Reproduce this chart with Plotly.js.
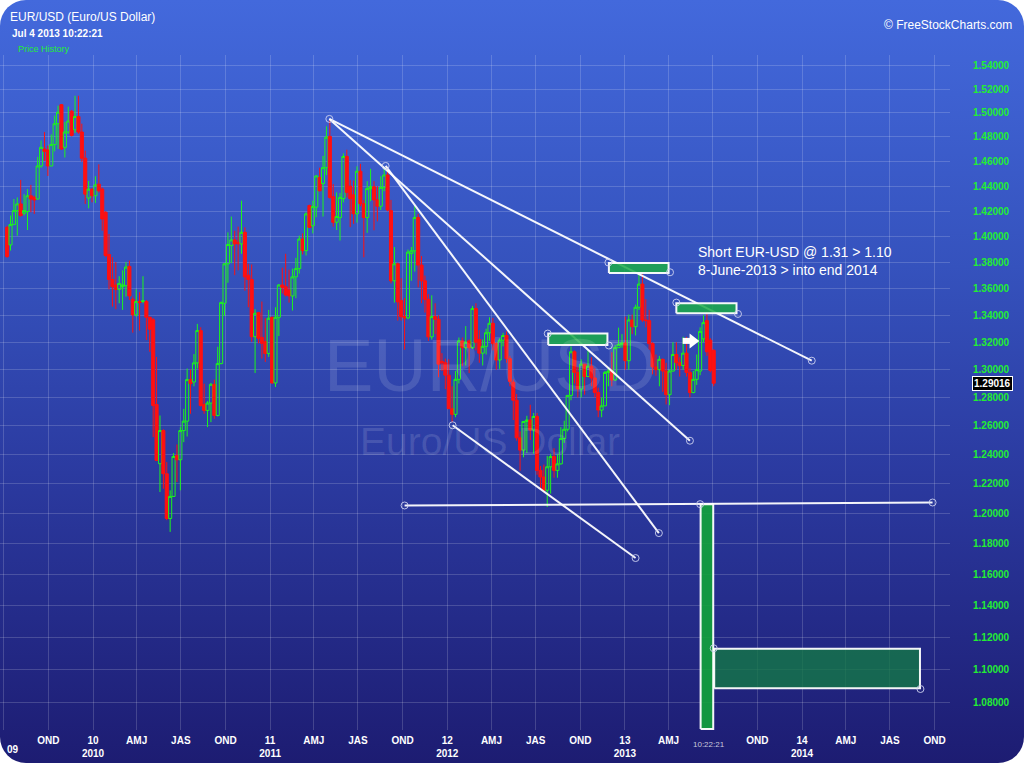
<!DOCTYPE html>
<html><head><meta charset="utf-8">
<script src="https://cdn.plot.ly/plotly-3.0.1.min.js"></script>
<style>
html,body{margin:0;padding:0;background:#ffffff;}
#wrap{position:absolute;left:0;top:0;width:1024px;height:763px;border-radius:26px;overflow:hidden;
background:linear-gradient(to bottom,#4369dc 0%,#3552bd 35%,#2b3aa0 62%,#1d1c72 100%);}
#chart{width:1024px;height:763px;}
</style></head>
<body><div id="wrap"><div id="chart"></div></div>
<script>
// ---------- DATA (weekly EUR/USD candles) ----------
var weeks = [
'2009-07-08','2009-07-15','2009-07-22','2009-07-29','2009-08-05','2009-08-12','2009-08-19','2009-08-26','2009-09-02','2009-09-09',
'2009-09-16','2009-09-23','2009-09-30','2009-10-07','2009-10-14','2009-10-21','2009-10-28','2009-11-04','2009-11-11','2009-11-18',
'2009-11-25','2009-12-02','2009-12-09','2009-12-16','2009-12-23','2009-12-30',
'2010-01-06','2010-01-13','2010-01-20','2010-01-27','2010-02-03','2010-02-10','2010-02-17','2010-02-24','2010-03-03','2010-03-10',
'2010-03-17','2010-03-24','2010-03-31','2010-04-07','2010-04-14','2010-04-21','2010-04-28','2010-05-05','2010-05-12','2010-05-19',
'2010-05-26','2010-06-02','2010-06-09','2010-06-16','2010-06-23','2010-06-30','2010-07-07','2010-07-14','2010-07-21','2010-07-28',
'2010-08-04','2010-08-11','2010-08-18','2010-08-25','2010-09-01','2010-09-08','2010-09-15','2010-09-22','2010-09-29','2010-10-06',
'2010-10-13','2010-10-20','2010-10-27','2010-11-03','2010-11-10','2010-11-17','2010-11-24','2010-12-01','2010-12-08','2010-12-15',
'2010-12-22','2010-12-29',
'2011-01-05','2011-01-12','2011-01-19','2011-01-26','2011-02-02','2011-02-09','2011-02-16','2011-02-23','2011-03-02','2011-03-09',
'2011-03-16','2011-03-23','2011-03-30','2011-04-06','2011-04-13','2011-04-20','2011-04-27','2011-05-04','2011-05-11','2011-05-18',
'2011-05-25','2011-06-01','2011-06-08','2011-06-15','2011-06-22','2011-06-29','2011-07-06','2011-07-13','2011-07-20','2011-07-27',
'2011-08-03','2011-08-10','2011-08-17','2011-08-24','2011-08-31','2011-09-07','2011-09-14','2011-09-21','2011-09-28','2011-10-05',
'2011-10-12','2011-10-19','2011-10-26','2011-11-02','2011-11-09','2011-11-16','2011-11-23','2011-11-30','2011-12-07','2011-12-14',
'2011-12-21','2011-12-28',
'2012-01-04','2012-01-11','2012-01-18','2012-01-25','2012-02-01','2012-02-08','2012-02-15','2012-02-22','2012-02-29','2012-03-07',
'2012-03-14','2012-03-21','2012-03-28','2012-04-04','2012-04-11','2012-04-18','2012-04-25','2012-05-02','2012-05-09','2012-05-16',
'2012-05-23','2012-05-30','2012-06-06','2012-06-13','2012-06-20','2012-06-27','2012-07-04','2012-07-11','2012-07-18','2012-07-25',
'2012-08-01','2012-08-08','2012-08-15','2012-08-22','2012-08-29','2012-09-05','2012-09-12','2012-09-19','2012-09-26','2012-10-03',
'2012-10-10','2012-10-17','2012-10-24','2012-10-31','2012-11-07','2012-11-14','2012-11-21','2012-11-28','2012-12-05','2012-12-12',
'2012-12-19','2012-12-26',
'2013-01-02','2013-01-09','2013-01-16','2013-01-23','2013-01-30','2013-02-06','2013-02-13','2013-02-20','2013-02-27','2013-03-06',
'2013-03-13','2013-03-20','2013-03-27','2013-04-03','2013-04-10','2013-04-17','2013-04-24','2013-05-01','2013-05-08','2013-05-15',
'2013-05-22','2013-05-29','2013-06-05','2013-06-12','2013-06-19','2013-06-26','2013-07-03'];

var openP = [
1.4073,1.3936,1.4095,1.4205,1.4258,1.4184,1.4197,1.4323,1.4310,1.4297,
1.4563,1.4701,1.4693,1.4563,1.4738,1.4910,1.5069,1.4715,1.4841,1.5014,
1.4860,1.4970,1.4841,1.4626,1.4305,1.4376,1.4323,1.4416,1.4376,1.4192,
1.3862,1.3670,1.3628,1.3595,1.3615,1.3623,1.3770,1.3520,1.3403,1.3503,
1.3503,1.3503,1.3385,1.3366,1.2750,1.2336,1.2566,1.2267,1.1965,1.2113,
1.2393,1.2363,1.2566,1.2632,1.2928,1.2911,1.3049,1.3286,1.2750,1.2708,
1.2760,1.2894,1.2672,1.3044,1.3490,1.3790,1.3931,1.3975,1.3957,1.3944,
1.4034,1.3703,1.3670,1.3241,1.3420,1.3236,1.3204,1.3118,1.3385,1.2904,
1.3385,1.3628,1.3615,1.3590,1.3545,1.3690,1.3753,1.3982,1.3892,1.4245,
1.4086,1.4232,1.4469,1.4421,1.4549,1.4805,1.4315,1.4113,1.4150,1.4300,
1.4640,1.4400,1.4330,1.4180,1.4520,1.4260,1.4150,1.4380,1.4395,1.4290,
1.4240,1.4390,1.4490,1.4205,1.3660,1.3790,1.3510,1.3390,1.3380,1.3870,
1.3890,1.4150,1.3780,1.3660,1.3520,1.3240,1.3390,1.3370,1.3060,1.3050,
1.2960,1.2720,1.2680,1.2930,1.3210,1.3160,1.3210,1.3160,1.3450,1.3220,
1.3120,1.3170,1.3270,1.3340,1.3190,1.3070,1.3215,1.3250,1.3080,1.2910,
1.2780,1.2515,1.2430,1.2630,1.2640,1.2570,1.2665,1.2290,1.2245,1.2155,
1.2315,1.2385,1.2290,1.2335,1.2510,1.2575,1.2815,1.3130,1.2980,1.2860,
1.3040,1.2950,1.3025,1.2940,1.2835,1.2710,1.2740,1.2980,1.2990,1.2925,
1.3160,1.3185,1.3195,1.3065,1.3365,1.3315,1.3460,1.3635,1.3365,1.3360,
1.3190,1.3020,1.3000,1.3075,1.2990,1.2820,1.2990,1.3110,1.3050,1.3030,
1.3120,1.2980,1.2835,1.2930,1.2990,1.3225,1.3360,1.3215,1.3140];

var highP = [
1.4086,1.4166,1.4297,1.4310,1.4450,1.4336,1.4376,1.4410,1.4323,1.4637,
1.4771,1.4841,1.4729,1.4821,1.4978,1.5061,1.5075,1.4924,1.5053,1.5025,
1.5144,1.5144,1.4910,1.4688,1.4442,1.4384,1.4480,1.4576,1.4389,1.4200,
1.4021,1.3841,1.3803,1.3695,1.3740,1.3803,1.3815,1.3540,1.3595,1.3573,
1.3695,1.3515,1.3390,1.3380,1.3093,1.2672,1.2575,1.2347,1.2154,1.2409,
1.2469,1.2590,1.2719,1.3008,1.3001,1.3113,1.3336,1.3311,1.2899,1.2774,
1.2904,1.2928,1.3167,1.3503,1.3795,1.4034,1.4158,1.4047,1.4079,1.4284,
1.4073,1.3790,1.3785,1.3445,1.3425,1.3503,1.3378,1.3440,1.3390,1.3460,
1.3635,1.3760,1.3867,1.3745,1.3753,1.3836,1.4008,1.4026,1.4192,1.4252,
1.4284,1.4490,1.4549,1.4645,1.4888,1.4950,1.4416,1.4350,1.4345,1.4665,
1.4695,1.4450,1.4445,1.4560,1.4580,1.4290,1.4440,1.4540,1.4440,1.4400,
1.4480,1.4550,1.4550,1.4290,1.3920,1.3800,1.3680,1.3530,1.3900,1.3920,
1.4245,1.4180,1.3850,1.3700,1.3560,1.3550,1.3490,1.3400,1.3120,1.3080,
1.3075,1.2880,1.2990,1.3235,1.3235,1.3320,1.3220,1.3470,1.3490,1.3290,
1.3220,1.3300,1.3385,1.3380,1.3200,1.3230,1.3270,1.3280,1.3100,1.2930,
1.2825,1.2560,1.2625,1.2670,1.2748,1.2690,1.2690,1.2320,1.2330,1.2390,
1.2405,1.2443,1.2400,1.2590,1.2635,1.2815,1.3170,1.3140,1.3020,1.3075,
1.3040,1.3140,1.3090,1.3010,1.2870,1.2800,1.2990,1.3015,1.3127,1.3180,
1.3308,1.3260,1.3390,1.3405,1.3405,1.3480,1.3711,1.3710,1.3520,1.3440,
1.3200,1.3110,1.3100,1.3080,1.3050,1.3000,1.3200,1.3200,1.3090,1.3240,
1.3240,1.3010,1.2990,1.3110,1.3310,1.3400,1.3420,1.3230,1.3150];

var lowP = [
1.3836,1.3892,1.4090,1.4008,1.4158,1.4166,1.4052,1.4192,1.4179,1.4294,
1.4549,1.4604,1.4482,1.4560,1.4682,1.4701,1.4693,1.4632,1.4827,1.4805,
1.4833,1.4827,1.4598,1.4258,1.4223,1.4271,1.4266,1.4350,1.4047,1.3840,
1.3595,1.3465,1.3445,1.3490,1.3440,1.3540,1.3515,1.3271,1.3390,1.3286,
1.3490,1.3217,1.3130,1.2520,1.2354,1.2143,1.2165,1.1954,1.1876,1.2109,
1.2210,1.2154,1.2485,1.2524,1.2684,1.2880,1.3008,1.2735,1.2684,1.2590,
1.2625,1.2649,1.2665,1.3039,1.3395,1.3645,1.3795,1.3703,1.3740,1.3867,
1.3585,1.3460,1.3204,1.2976,1.3192,1.3081,1.3056,1.3093,1.2899,1.2875,
1.3246,1.3565,1.3540,1.3495,1.3435,1.3528,1.3715,1.3862,1.3854,1.4068,
1.4026,1.4153,1.4358,1.4158,1.4490,1.4300,1.4079,1.4052,1.3970,1.4270,
1.4310,1.4075,1.4100,1.4110,1.4240,1.3840,1.4030,1.4280,1.4050,1.4120,
1.4210,1.4360,1.4200,1.3640,1.3495,1.3360,1.3360,1.3145,1.3370,1.3660,
1.3730,1.3610,1.3490,1.3420,1.3210,1.3220,1.3260,1.2945,1.2990,1.2860,
1.2720,1.2625,1.2660,1.2900,1.3025,1.3030,1.2975,1.3150,1.3140,1.3050,
1.3030,1.3110,1.3210,1.3140,1.3000,1.3005,1.3170,1.3050,1.2880,1.2640,
1.2495,1.2288,1.2380,1.2410,1.2500,1.2405,1.2260,1.2160,1.2140,1.2042,
1.2132,1.2240,1.2240,1.2330,1.2480,1.2560,1.2780,1.2900,1.2800,1.2800,
1.2820,1.2950,1.2880,1.2800,1.2660,1.2660,1.2740,1.2880,1.2880,1.2920,
1.3160,1.3160,1.3000,1.3000,1.3260,1.3250,1.3440,1.3350,1.3310,1.3145,
1.2966,1.2955,1.2880,1.2840,1.2750,1.2745,1.2985,1.3000,1.2950,1.3000,
1.2950,1.2800,1.2830,1.2890,1.2960,1.3200,1.3100,1.2980,1.2880];

var closeP = [
1.3846,1.4095,1.4205,1.4258,1.4166,1.4205,1.4323,1.4297,1.4289,1.4563,
1.4715,1.4682,1.4563,1.4738,1.4910,1.5006,1.4701,1.4841,1.4932,1.4813,
1.4970,1.4841,1.4626,1.4336,1.4376,1.4323,1.4410,1.4363,1.4139,1.3854,
1.3670,1.3615,1.3595,1.3640,1.3628,1.3765,1.3545,1.3403,1.3503,1.3495,
1.3508,1.3385,1.3296,1.2743,1.2359,1.2566,1.2267,1.1965,1.2113,1.2386,
1.2363,1.2566,1.2632,1.2928,1.2899,1.3049,1.3286,1.2743,1.2708,1.2760,
1.2894,1.2672,1.3044,1.3495,1.3790,1.3939,1.3975,1.3944,1.3944,1.4034,
1.3690,1.3670,1.3241,1.3415,1.3229,1.3192,1.3118,1.3378,1.2904,1.3385,
1.3628,1.3610,1.3553,1.3545,1.3690,1.3753,1.3982,1.3892,1.4179,1.4073,
1.4237,1.4482,1.4363,1.4549,1.4799,1.4310,1.4113,1.4158,1.4310,1.4640,
1.4350,1.4300,1.4180,1.4520,1.4260,1.4150,1.4380,1.4395,1.4290,1.4240,
1.4390,1.4490,1.4210,1.3660,1.3790,1.3500,1.3390,1.3380,1.3880,1.3890,
1.4150,1.3780,1.3660,1.3520,1.3240,1.3390,1.3370,1.3040,1.3050,1.2960,
1.2720,1.2680,1.2930,1.3210,1.3160,1.3200,1.3160,1.3450,1.3200,1.3120,
1.3170,1.3270,1.3340,1.3190,1.3070,1.3215,1.3250,1.3080,1.2915,1.2780,
1.2515,1.2430,1.2630,1.2640,1.2570,1.2665,1.2290,1.2245,1.2155,1.2315,
1.2385,1.2290,1.2335,1.2510,1.2575,1.2815,1.3130,1.2980,1.2860,1.3040,
1.2950,1.3025,1.2940,1.2835,1.2710,1.2740,1.2980,1.2990,1.2925,1.3160,
1.3185,1.3195,1.3065,1.3365,1.3315,1.3460,1.3635,1.3365,1.3360,1.3190,
1.3020,1.3000,1.3075,1.2990,1.2820,1.2990,1.3110,1.3050,1.3030,1.3120,
1.2980,1.2835,1.2930,1.3000,1.3280,1.3345,1.3130,1.2995,1.2902];

var lastPrice = 1.29016;

// hand-drawn trend lines (date / price end points)
var trendStartDate  = ['2011-05-03','2011-05-03','2011-08-27','2012-01-12','2011-10-05'];
var trendStartPrice = [1.4950, 1.4950, 1.4563, 1.2603, 1.2052];
var trendEndDate    = ['2014-01-21','2013-05-15','2013-03-12','2013-01-23','2014-09-27'];
var trendEndPrice   = [1.3065, 1.2495, 1.1868, 1.1704, 1.2072];

// rectangles (zones)
var zoneStartDate = ['2012-07-27','2012-11-29','2013-04-17','2013-06-06','2013-07-04'];
var zoneEndDate   = ['2012-11-26','2013-04-01','2013-08-19','2013-07-02','2014-09-01'];
var zoneLowPrice  = [1.3179, 1.3719, 1.3415, 1.0640, 1.0884];
var zoneHighPrice = [1.3264, 1.3796, 1.3490, 1.2061, 1.1127];

// drawing anchor handles
var handleDates  = ['2011-05-03','2014-01-21','2011-08-27','2013-05-15','2013-03-12','2013-01-23','2012-01-12',
                    '2011-10-05','2013-06-05','2014-09-27','2012-07-26','2012-11-29','2012-11-28','2013-04-04',
                    '2013-04-17','2013-08-22','2013-07-03','2014-09-02'];
var handlePrices = [1.4950,1.3065,1.4563,1.2495,1.1868,1.1704,1.2603,
                    1.2052,1.2061,1.2072,1.3264,1.3176,1.3800,1.3725,
                    1.3495,1.3410,1.1130,1.0880];

// arrow marker
var arrowShaftDates = ['2013-04-30','2013-05-16'];
var arrowHeadDate = '2013-05-21';
var arrowPrice = 1.3210;

// axis ticks
var yTickVals = [1.08,1.10,1.12,1.14,1.16,1.18,1.20,1.22,1.24,1.26,1.28,1.30,1.32,1.34,1.36,1.38,1.40,1.42,1.44,1.46,1.48,1.50,1.52,1.54];
var xTickVals = ['2009-07-01','2009-10-01','2010-01-01','2010-04-01','2010-07-01','2010-10-01','2011-01-01','2011-04-01','2011-07-01','2011-10-01',
                 '2012-01-01','2012-04-01','2012-07-01','2012-10-01','2013-01-01','2013-04-01','2013-07-01','2013-10-01','2014-01-01','2014-04-01','2014-07-01','2014-10-01'];
var xTickText = ['','OND','10<br>2010','AMJ','JAS','OND','11<br>2011','AMJ','JAS','OND',
                 '12<br>2012','AMJ','JAS','OND','13<br>2013','AMJ','','OND','14<br>2014','AMJ','JAS','OND'];

// ---------- CHART ----------
var FONT = 'Liberation Sans, Arial, sans-serif';
var traces = [];
traces.push({type:'candlestick', x:weeks, open:openP, high:highP, low:lowP, close:closeP,
  increasing:{line:{color:'#1cf51c',width:1}, fillcolor:'rgba(0,0,0,0)'},
  decreasing:{line:{color:'#ff1010',width:1}, fillcolor:'#ff1010'},
  whiskerwidth:0, hoverinfo:'skip', showlegend:false});

for (var i=0;i<trendStartDate.length;i++){
  traces.push({type:'scatter', mode:'lines', x:[trendStartDate[i],trendEndDate[i]], y:[trendStartPrice[i],trendEndPrice[i]],
    line:{color:'rgba(255,255,255,0.95)', width:2}, hoverinfo:'skip', showlegend:false});
}
var zoneFill = ['rgba(26,172,72,0.85)','rgba(26,172,72,0.85)','rgba(26,172,72,0.85)','rgba(18,163,58,0.9)','rgba(20,120,70,0.8)'];
for (var j=0;j<zoneStartDate.length;j++){
  traces.push({type:'scatter', mode:'lines',
    x:[zoneStartDate[j],zoneEndDate[j],zoneEndDate[j],zoneStartDate[j],zoneStartDate[j]],
    y:[zoneLowPrice[j],zoneLowPrice[j],zoneHighPrice[j],zoneHighPrice[j],zoneLowPrice[j]],
    fill:'toself', fillcolor:zoneFill[j], line:{color:'rgba(255,255,255,0.95)', width:2},
    hoverinfo:'skip', showlegend:false});
}
traces.push({type:'scatter', mode:'lines', x:arrowShaftDates, y:[arrowPrice,arrowPrice],
  line:{color:'#ffffff', width:6}, hoverinfo:'skip', showlegend:false});
traces.push({type:'scatter', mode:'markers', x:[arrowHeadDate], y:[arrowPrice],
  marker:{symbol:'triangle-right', size:13, color:'#ffffff'}, hoverinfo:'skip', showlegend:false});
traces.push({type:'scatter', mode:'markers', x:handleDates, y:handlePrices,
  marker:{symbol:'circle-open', size:7, color:'rgba(205,210,240,0.9)', line:{width:1}}, hoverinfo:'skip', showlegend:false});

var yTickText = yTickVals.map(function(v){return v.toFixed(5);});

var layout = {
  width:1024, height:763,
  margin:{l:0, r:74, t:55, b:33},
  paper_bgcolor:'rgba(0,0,0,0)', plot_bgcolor:'rgba(0,0,0,0)',
  showlegend:false,
  boxgap:0.1, boxgroupgap:0,
  font:{family:FONT, color:'#ffffff'},
  title:{text:'EUR/USD (Euro/US Dollar)', xref:'container', yref:'container', x:10/1024, xanchor:'left',
         y:1-17/763, yanchor:'middle', font:{family:FONT, size:12, color:'#ffffff'}},
  xaxis:{type:'date', range:['2009-06-23 09:00','2014-11-01 21:00'], tickvals:xTickVals, ticktext:xTickText,
         showgrid:true, gridcolor:'rgba(255,255,255,0.17)', gridwidth:1, zeroline:false, showline:false, ticks:'',
         ticklabelstandoff:3,
         tickfont:{family:FONT, size:10, color:'#ffffff', weight:'bold'}, rangeslider:{visible:false}, fixedrange:true},
  yaxis:{type:'log', range:[0.02671,0.19011], side:'right', tickvals:yTickVals, ticktext:yTickText,
         showgrid:true, gridcolor:'rgba(255,255,255,0.17)', gridwidth:1, zeroline:false, showline:false, ticks:'',
         ticklabelstandoff:22, tickfont:{family:FONT, size:10, color:'#22ee33', weight:'bold'}, fixedrange:true},
  annotations:[
    {xref:'paper', yref:'paper', x:0.5158, y:0.5407, text:'EUR/USD', showarrow:false,
     font:{family:FONT, size:74, color:'rgba(255,255,255,0.13)'}},
    {xref:'paper', yref:'paper', x:0.5158, y:0.4267, text:'Euro/US Dollar', showarrow:false,
     font:{family:FONT, size:39, color:'rgba(255,255,255,0.13)'}},
    {xref:'paper', yref:'paper', x:10/950, y:(730-33)/675, xanchor:'left', yanchor:'middle', showarrow:false,
     text:'<b>Jul 4 2013 10:22:21</b>', font:{family:FONT, size:10, color:'#ffffff'}},
    {xref:'paper', yref:'paper', x:16/950, y:(730-49)/675, xanchor:'left', yanchor:'middle', showarrow:false,
     text:'Price History', font:{family:FONT, size:9, color:'#22ee33'}},
    {xref:'paper', yref:'paper', x:1014/950, y:(730-25)/675, xanchor:'right', yanchor:'middle', showarrow:false,
     text:'© FreeStockCharts.com', font:{family:FONT, size:12, color:'#ffffff'}},
    {xref:'paper', yref:'paper', x:696/950, y:(730-261)/675, xanchor:'left', yanchor:'middle', align:'left', showarrow:false,
     text:'Short EUR-USD @ 1.31 &gt; 1.10<br>8-June-2013 &gt; into end 2014', font:{family:FONT, size:14, color:'#ffffff'}},
    {xref:'paper', yref:'y', x:972/950, y:Math.log10(lastPrice), xanchor:'left', yanchor:'middle', showarrow:false,
     text:'<b>'+lastPrice.toFixed(5)+'</b>', bgcolor:'#000000', bordercolor:'#ffffff', borderwidth:1, borderpad:1,
     font:{family:FONT, size:10, color:'#ffffff'}},
    {xref:'paper', yref:'paper', x:709/950, y:(730-744)/675, xanchor:'center', yanchor:'middle', showarrow:false,
     text:'10:22:21', font:{family:FONT, size:8, color:'#c8c8dc'}},
    {xref:'paper', yref:'paper', x:13/950, y:(730-749)/675, xanchor:'center', yanchor:'middle', showarrow:false,
     text:'<b>09</b>', font:{family:FONT, size:10, color:'#ffffff'}}
  ]
};

Plotly.newPlot('chart', traces, layout, {displayModeBar:false, staticPlot:true});
</script>
</body></html>
